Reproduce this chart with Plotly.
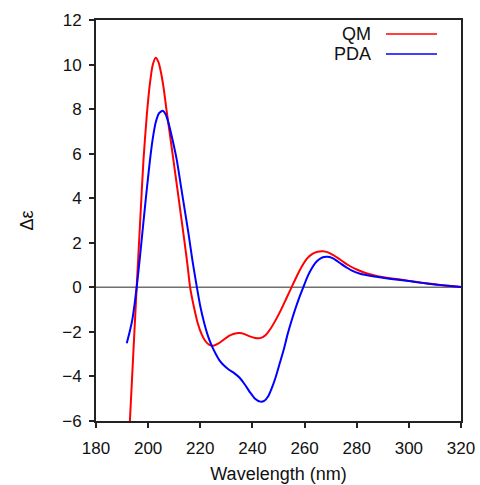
import plotly.graph_objects as go

# QM spectrum (wavelength in nm, delta epsilon)
qm_wl = [192.5, 193.8, 195.6, 197.0, 198.2, 199.5, 200.7, 201.8, 202.9, 204.0,
         205.0, 206.0, 207.0, 208.3, 209.7, 211.0, 212.5, 214.0, 215.1, 216.1,
         217.5, 219.0, 220.5, 222.0, 223.5, 225.0, 227.0, 229.0, 231.0, 233.0,
         235.0, 237.0, 239.0, 241.0, 243.0, 245.0, 247.0, 249.0, 251.0, 253.0,
         255.0, 257.0, 259.0, 261.0, 263.0, 265.0, 267.0, 269.0, 271.0, 273.0,
         275.0, 277.0, 280.0, 284.0, 288.0, 292.0, 296.0, 300.0, 305.0, 310.0,
         315.0, 320.0]
qm_de = [-7.15, -4.15, 0.0, 3.1, 5.7, 7.75, 9.17, 10.0, 10.31, 10.1,
         9.6, 8.9, 8.0, 6.9, 5.71, 4.6, 3.3, 2.0, 1.0, 0.0,
         -0.85, -1.6, -2.1, -2.42, -2.58, -2.62, -2.52, -2.35, -2.18, -2.08,
         -2.05, -2.1, -2.2, -2.27, -2.28, -2.15, -1.85, -1.45, -1.0, -0.5,
         0.0, 0.5, 0.95, 1.3, 1.5, 1.6, 1.62, 1.57, 1.45, 1.3,
         1.13, 0.98, 0.8, 0.62, 0.5, 0.42, 0.36, 0.29, 0.21, 0.14,
         0.07, 0.02]

# PDA spectrum
pda_wl = [191.8, 192.8, 193.9, 194.8, 195.6, 196.8, 198.0, 199.3, 200.7, 201.8,
          202.9, 204.2, 205.6, 206.8, 208.0, 209.4, 211.0, 212.5, 214.0, 215.5,
          217.0, 218.7, 220.0, 221.5, 223.0, 224.5, 226.0, 227.5, 229.0, 231.0,
          233.0, 235.0, 237.0, 239.0, 241.0, 243.0, 244.5, 246.0, 247.5, 249.0,
          250.5, 252.0, 253.5, 255.0, 256.5, 258.0, 259.5, 261.0, 262.5, 264.0,
          265.5, 267.0, 268.7, 270.5, 272.0, 274.0, 276.0, 278.0, 281.0, 285.0,
          290.0, 295.0, 300.0, 305.0, 310.0, 315.0, 320.0]
pda_de = [-2.51, -2.05, -1.47, -0.75, 0.0, 1.3, 2.7, 4.2, 5.71, 6.7,
          7.4, 7.82, 7.93, 7.75, 7.3, 6.6, 5.71, 4.6, 3.5, 2.4,
          1.2, 0.0, -0.85, -1.6, -2.2, -2.65, -3.0, -3.3, -3.5, -3.7,
          -3.85, -4.05, -4.35, -4.7, -5.0, -5.13, -5.1, -4.9, -4.5, -4.0,
          -3.4, -2.8, -2.1, -1.5, -0.95, -0.45, 0.0, 0.45, 0.8, 1.08,
          1.25, 1.35, 1.37, 1.32, 1.22, 1.05, 0.9, 0.76, 0.62, 0.52,
          0.43, 0.35, 0.28, 0.2, 0.13, 0.07, 0.02]

x_ticks = [180, 200, 220, 240, 260, 280, 300, 320]
y_ticks = [-6, -4, -2, 0, 2, 4, 6, 8, 10, 12]

FONT = "Liberation Sans"
AXIS = "#222222"

fig = go.Figure()
fig.add_trace(go.Scatter(x=qm_wl, y=qm_de, mode="lines", name="QM",
                         line=dict(color="#ff0000", width=2, shape="spline", smoothing=0.6)))
fig.add_trace(go.Scatter(x=pda_wl, y=pda_de, mode="lines", name="PDA",
                         line=dict(color="#0000ff", width=2, shape="spline", smoothing=0.6)))

# zero baseline
fig.add_shape(type="line", xref="paper", yref="y", x0=0, x1=1, y0=0, y1=0,
              line=dict(color="#707070", width=1.5), layer="below")

# legend: label on the left, line sample on the right
for i, (name, color) in enumerate([("QM", "#ff0000"), ("PDA", "#0000ff")]):
    ypx = 34 + 20 * i
    yp = 1 - (ypx - 20) / 401
    fig.add_annotation(xref="paper", yref="paper", x=(373 - 96) / 365, y=yp,
                       text=name, showarrow=False, xanchor="right", yanchor="middle",
                       font=dict(family=FONT, size=18, color="#111111"))
    fig.add_shape(type="line", xref="paper", yref="paper",
                  x0=(386 - 96) / 365, x1=(437 - 96) / 365, y0=yp, y1=yp,
                  line=dict(color=color, width=1.5))

fig.update_layout(
    width=480, height=485,
    margin=dict(l=96, r=19, t=20, b=64),
    plot_bgcolor="white", paper_bgcolor="white",
    showlegend=False,
    font=dict(family=FONT, size=17, color="#111111"),
    xaxis=dict(range=[180, 320], tickvals=x_ticks, ticks="outside", ticklen=5,
               tickwidth=1.5, tickcolor=AXIS, showline=True, linecolor=AXIS,
               linewidth=1.8, mirror=True, showgrid=False, zeroline=False,
               ticklabelstandoff=6, automargin=False,
               title=dict(text="Wavelength (nm)", font=dict(size=18), standoff=10)),
    yaxis=dict(range=[-6, 12], tickvals=y_ticks, ticks="outside", ticklen=5,
               tickwidth=1.5, tickcolor=AXIS, showline=True, linecolor=AXIS,
               linewidth=1.8, mirror=True, showgrid=False, zeroline=False,
               tickformat="d", ticklabelstandoff=4, automargin=False,
               title=dict(text="Δε", font=dict(size=18), standoff=24)),
)

fig.write_html("out.html")
